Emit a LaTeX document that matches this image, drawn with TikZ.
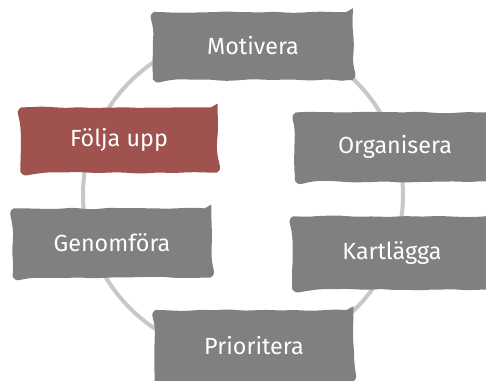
\documentclass[tikz,border=0pt]{standalone}
\usepackage{fontspec}
\setmainfont{Fira Sans}
\usetikzlibrary{decorations.pathmorphing}

\definecolor{fasgray}{RGB}{128,128,128}
\definecolor{fasred}{RGB}{160,82,78}
\definecolor{ringgray}{RGB}{200,200,200}

\begin{document}
\begin{tikzpicture}[
    x=0.75pt,
    y=-0.75pt,
    fas/.style={
        rectangle,
        fill=fasgray,
        text=white,
        minimum width=150pt,
        minimum height=51pt,
        rounded corners=5pt,
        decorate,
        decoration={random steps, segment length=9pt, amplitude=0.7pt},
        font=\fontsize{17.5}{20}\selectfont
    },
    ring/.style={
        draw=ringgray,
        line width=3pt
    }
]
    \pgfmathsetseed{7}
    \useasboundingbox (0,0) rectangle (486,381);

    % Ring
    \coordinate (mid) at (243,195);
    \draw [ring] (mid) circle [radius=120pt];

    % Steps
    \node [fas] (motivera) at (253,46) {Motivera};
    \node [fas, minimum width=150pt, minimum height=52pt] (organisera) at (395,147) {Organisera};
    \node [fas, minimum height=55pt] (kartlagga) at (392,253) {Kartlägga};
    \node [fas, minimum width=149pt, minimum height=54pt] (prioritera) at (254,346) {Prioritera};
    \node [fas, minimum width=149pt, minimum height=52pt] (genomfora) at (112,243) {Genomföra};
    \node [fas, fill=fasred, minimum width=148pt, minimum height=49pt] (folja) at (119,140) {Följa upp};

\end{tikzpicture}
\end{document}
